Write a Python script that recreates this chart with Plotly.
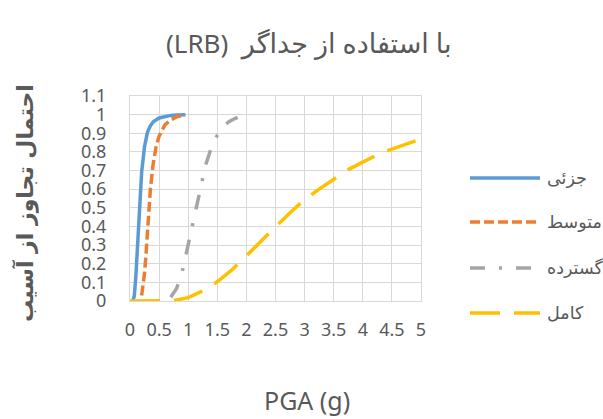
import plotly.graph_objects as go

# Fragility curves: probability of exceeding each damage state vs PGA (g)
minor_x = [0.05, 0.075, 0.1, 0.125, 0.15, 0.175, 0.2, 0.25, 0.3, 0.35, 0.4, 0.5, 0.6, 0.7, 0.8, 0.9, 0.95]
minor_y = [0.0, 0.03, 0.13, 0.27, 0.43, 0.58, 0.69, 0.83, 0.905, 0.94, 0.962, 0.982, 0.991, 0.996, 0.998, 0.999, 1.0]

moderate_x = [0.2, 0.225, 0.25, 0.275, 0.3, 0.325, 0.35, 0.4, 0.45, 0.5, 0.55, 0.6, 0.7, 0.8, 0.9, 0.95]
moderate_y = [0.03, 0.08, 0.15, 0.25, 0.36, 0.48, 0.60, 0.74, 0.83, 0.885, 0.92, 0.945, 0.972, 0.988, 0.996, 1.0]

extensive_x = [0.7, 0.8, 0.9, 1.0, 1.1, 1.2, 1.3, 1.4, 1.5, 1.6, 1.7, 1.8, 1.85]
extensive_y = [0.02, 0.067, 0.16, 0.30, 0.45, 0.60, 0.73, 0.825, 0.89, 0.935, 0.962, 0.979, 0.985]

complete_x = [0, 0.25, 0.5, 0.75, 1.0, 1.25, 1.5, 1.75, 2.0, 2.25, 2.5, 2.75, 3.0,
              3.25, 3.5, 3.75, 4.0, 4.25, 4.5, 4.75, 5.0]
complete_y = [0, 0, 0, 0.002, 0.018, 0.054, 0.103, 0.167, 0.243, 0.322, 0.398, 0.473, 0.545,
              0.600, 0.655, 0.705, 0.745, 0.785, 0.815, 0.845, 0.87]

series_names = ["جزئی", "متوسط", "گسترده", "کامل"]
series_colors = ["#5B9BD5", "#ED7D31", "#A5A5A5", "#FFC000"]
series_dashes = ["solid", "10px,4px", "15px,14px,3px,14px", "30px,14px"]

x_ticks = [0, 0.5, 1, 1.5, 2, 2.5, 3, 3.5, 4, 4.5, 5]
x_tick_labels = ["0", "0.5", "1", "1.5", "2", "2.5", "3", "3.5", "4", "4.5", "5"]
y_ticks = [0, 0.1, 0.2, 0.3, 0.4, 0.5, 0.6, 0.7, 0.8, 0.9, 1.0, 1.1]
y_tick_labels = ["0", "0.1", "0.2", "0.3", "0.4", "0.5", "0.6", "0.7", "0.8", "0.9", "1", "1.1"]

TEXT = "#595959"
GRID = "#D9D9D9"
FONT = "Noto Sans, DejaVu Sans, sans-serif"
ARABIC = "DejaVu Sans, sans-serif"

W, H = 603, 419
ML, MR, MT, MB = 130, 182, 96, 118
PW, PH = W - ML - MR, H - MT - MB


def px_x(p):
    return (p - ML) / PW


def px_y(p):
    return (H - MB - p) / PH


fig = go.Figure()
all_x = [minor_x, moderate_x, extensive_x, complete_x]
all_y = [minor_y, moderate_y, extensive_y, complete_y]
for xs, ys, name, color, dash in zip(all_x, all_y, series_names, series_colors, series_dashes):
    fig.add_trace(go.Scatter(
        x=xs, y=ys, name=name, mode="lines",
        line=dict(color=color, width=3.5, dash=dash),
        showlegend=False, hoverinfo="skip",
    ))

axis_common = dict(
    showgrid=True, gridcolor=GRID, gridwidth=1,
    showline=True, linecolor=GRID, linewidth=1, mirror=True,
    zeroline=False, ticks="outside", tickcolor="rgba(0,0,0,0)",
    tickfont=dict(family=FONT, size=18, color=TEXT),
    fixedrange=True,
)

fig.update_layout(
    width=W, height=H,
    margin=dict(l=ML, r=MR, t=MT, b=MB, pad=0),
    paper_bgcolor="white", plot_bgcolor="white",
    xaxis=dict(range=[0, 5], tickmode="array", tickvals=x_ticks, ticktext=x_tick_labels,
               ticklen=12, tickangle=0, **axis_common),
    yaxis=dict(range=[0, 1.1], tickmode="array", tickvals=y_ticks, ticktext=y_tick_labels,
               ticklen=19, **axis_common),
)

annotations = [
    dict(text="(LRB)  <span style='font-size:27px'>با استفاده از جداگر</span>",
         x=px_x(309), y=px_y(42),
         font=dict(family=FONT, size=26, color=TEXT)),
    dict(text="PGA (g)", x=px_x(307), y=px_y(400),
         font=dict(family=FONT, size=25, color=TEXT)),
    dict(text="<b>احتمال تجاوز از آسیب</b>", x=px_x(25), y=px_y(203), textangle=-90,
         font=dict(family=ARABIC, size=22, color=TEXT)),
]
for a in annotations:
    a.update(xref="paper", yref="paper", showarrow=False, xanchor="center", yanchor="middle")

# Legend drawn at the right of the plot area
legend_rows = [178, 222, 268, 313]
shapes = []
for row, name, color, dash in zip(legend_rows, series_names, series_colors, series_dashes):
    shapes.append(dict(type="line", xref="paper", yref="paper",
                       x0=px_x(470), x1=px_x(540), y0=px_y(row), y1=px_y(row),
                       line=dict(color=color, width=3.5, dash=dash)))
    annotations.append(dict(text=name, xref="paper", yref="paper", showarrow=False,
                            x=px_x(545), y=px_y(row), xanchor="left", yanchor="middle",
                            font=dict(family=ARABIC, size=17.5, color=TEXT)))

fig.update_layout(annotations=annotations, shapes=shapes)
fig.write_html("out.html")
